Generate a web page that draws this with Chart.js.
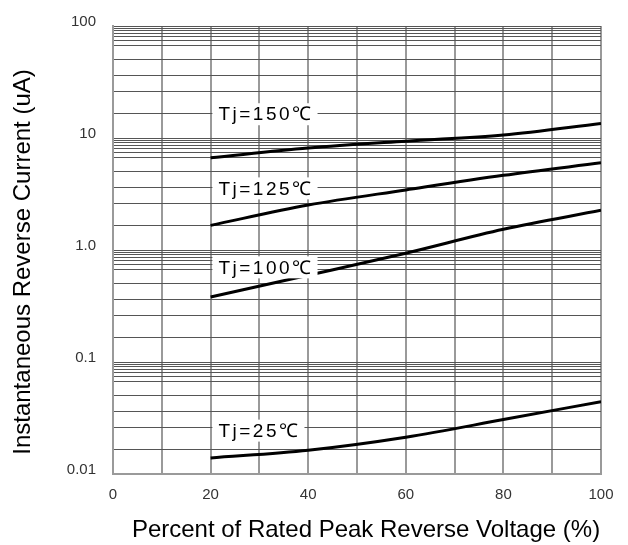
<!DOCTYPE html>
<html>
<head>
<meta charset="utf-8">
<script src="https://cdn.jsdelivr.net/npm/chart.js@4.4.1/dist/chart.umd.min.js"></script>
<style>
    html, body { margin: 0; padding: 0; background: #fff; }
    #wrap { width: 628px; height: 545px; position: relative; }
</style>
</head>
<body>
<div id="wrap"><canvas id="chart"></canvas></div>
<script>
// Data
const voltagePct = [20, 40, 60, 80, 100];
const tj150 = [6.67, 8.13, 9.37, 10.65, 13.5];
const tj125 = [1.66, 2.52, 3.44, 4.64, 6.01];
const tj100 = [0.381, 0.595, 0.937, 1.53, 2.26];
const tj25 = [0.0139, 0.0163, 0.0213, 0.0306, 0.0443];

const seriesNames = ['Tj=150℃', 'Tj=125℃', 'Tj=100℃', 'Tj=25℃'];
const xTickLabels = ['0', '20', '40', '60', '80', '100'];
const yDecades = [0.01, 0.1, 1, 10, 100];
const yTickLabels = ['0.01', '0.1', '1.0', '10', '100'];
// uneven minor lines as printed on the original graph paper
const yGridSteps = [1, 1.66, 2.6, 3.6, 5.07, 6.73, 7.45, 8.07, 8.59, 9.06, 9.55];

const xTitle = 'Percent of Rated Peak Reverse Voltage (%)';
const yTitle = 'Instantaneous Reverse Current (uA)';

const gridValues = [];
yDecades.slice(0, -1).forEach(d => yGridSteps.forEach(s => gridValues.push(+(d * s).toPrecision(4))));
gridValues.push(yDecades[yDecades.length - 1]);

const makeSet = (label, values) => ({
    label,
    data: voltagePct.map((x, i) => ({ x, y: values[i] })),
    borderColor: '#000',
    borderWidth: 3,
    pointRadius: 0,
    cubicInterpolationMode: 'monotone',
    fill: false
});

// Curve captions with white box, anchored in data units
const curveLabels = {
    id: 'curveLabels',
    afterDatasetsDraw(chart, args, opts) {
        const { ctx, scales: { x, y } } = chart;
        ctx.save();
        ctx.font = '19px "Liberation Sans", Arial, sans-serif';
        ctx.letterSpacing = '2.5px';
        ctx.textBaseline = 'middle';
        opts.anchors.forEach((a, i) => {
            const px = x.getPixelForValue(opts.x);
            const py = y.getPixelForValue(a);
            const w = ctx.measureText(seriesNames[i]).width;
            ctx.fillStyle = '#fff';
            ctx.fillRect(px - 6, py - 11, w + 10, 22);
            ctx.fillStyle = '#000';
            ctx.fillText(seriesNames[i], px, py + 1);
        });
        ctx.restore();
    }
};

// Axis titles placed like the printed sheet
const axisTitles = {
    id: 'axisTitles',
    afterDraw(chart) {
        const { ctx } = chart;
        ctx.save();
        ctx.font = '24px "Liberation Sans", Arial, sans-serif';
        ctx.fillStyle = '#000';
        ctx.textAlign = 'center';
        ctx.textBaseline = 'middle';
        ctx.fillText(xTitle, 366, 530);
        ctx.translate(23, 262);
        ctx.rotate(-Math.PI / 2);
        ctx.fillText(yTitle, 0, 0);
        ctx.restore();
    }
};

new Chart(document.getElementById('chart'), {
    type: 'line',
    data: {
        datasets: [
            makeSet(seriesNames[0], tj150),
            makeSet(seriesNames[1], tj125),
            makeSet(seriesNames[2], tj100),
            makeSet(seriesNames[3], tj25)
        ]
    },
    options: {
        responsive: true,
        maintainAspectRatio: false,
        animation: false,
        layout: { padding: { top: 21, right: 27, left: 0, bottom: 0 } },
        plugins: {
            legend: { display: false },
            tooltip: { enabled: false },
            curveLabels: { x: 21.6, anchors: [16.3, 3.55, 0.7, 0.0244] }
        },
        scales: {
            x: {
                type: 'linear',
                min: 0,
                max: 100,
                afterFit: s => { s.height = 71; },
                grid: { color: '#9a9a9a', lineWidth: 2, drawTicks: false },
                border: { color: '#9a9a9a', width: 2 },
                ticks: {
                    stepSize: 10,
                    padding: 12,
                    autoSkip: false,
                    maxRotation: 0,
                    color: '#333',
                    font: { family: '"Liberation Sans", Arial, sans-serif', size: 15 },
                    callback: v => (v % 20 === 0 ? xTickLabels[v / 20] : '')
                }
            },
            y: {
                type: 'logarithmic',
                min: yDecades[0],
                max: yDecades[yDecades.length - 1],
                afterFit: s => { s.width = 113; },
                afterBuildTicks: s => { s.ticks = gridValues.map(v => ({ value: v })); },
                grid: { color: '#555', lineWidth: 1, drawTicks: false },
                border: { color: '#9a9a9a', width: 2 },
                ticks: {
                    padding: 17,
                    labelOffset: -4,
                    autoSkip: false,
                    color: '#333',
                    font: { family: '"Liberation Sans", Arial, sans-serif', size: 15 },
                    callback: v => {
                        const i = yDecades.findIndex(d => Math.abs(d - v) / d < 1e-6);
                        return i >= 0 ? yTickLabels[i] : '';
                    }
                }
            }
        }
    },
    plugins: [curveLabels, axisTitles]
});
</script>
</body>
</html>
